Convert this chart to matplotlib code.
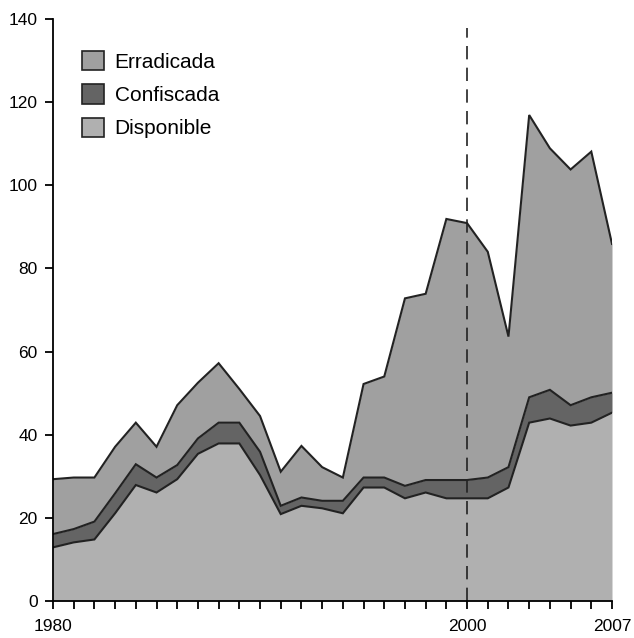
import matplotlib.pyplot as plt
import numpy as np
from matplotlib.patches import Patch

plt.rcParams["font.family"] = ["Liberation Sans", "DejaVu Sans"]

years = np.arange(1980, 2008)

# stacked layer values (hectares, thousands)
disponible = [12.9, 14.1, 14.8, 21.1, 27.9, 26.1, 29.3, 35.4, 37.9, 37.9,
              30.3, 20.9, 22.9, 22.3, 21.1, 27.3, 27.3, 24.7, 26.1, 24.7,
              24.7, 24.7, 27.3, 42.9, 43.9, 42.2, 42.9, 45.3]
confiscada = [3.2, 3.2, 4.3, 4.8, 5.0, 3.6, 3.4, 3.7, 5.0, 5.0,
              5.6, 2.0, 2.0, 1.8, 3.0, 2.4, 2.4, 3.0, 3.0, 4.4,
              4.4, 5.0, 4.9, 6.1, 6.9, 4.9, 6.1, 4.8]
erradicada = [13.2, 12.4, 10.6, 11.2, 10.0, 7.4, 14.4, 13.4, 14.3, 8.1,
              8.6, 8.2, 12.4, 8.1, 5.6, 22.5, 24.3, 45.1, 44.8, 62.8,
              61.8, 54.3, 31.4, 67.9, 58.1, 56.7, 59.1, 35.8]

labels = ["Erradicada", "Confiscada", "Disponible"]
colors = {"Erradicada": "#a0a0a0", "Confiscada": "#646464", "Disponible": "#b0b0b0"}
edge = "#222222"


def main():

    fig = plt.figure(figsize=(6.34, 6.38), dpi=100)
    ax = fig.add_axes([53 / 634, 37 / 638, 559 / 634, 582 / 638])

    d = np.array(disponible)
    c = d + np.array(confiscada)
    e = c + np.array(erradicada)

    ax.fill_between(years, c, e, color=colors["Erradicada"], lw=0)
    ax.fill_between(years, d, c, color=colors["Confiscada"], lw=0)
    ax.fill_between(years, 0, d, color=colors["Disponible"], lw=0)

    for line in (d, c, e):
        ax.plot(years, line, color=edge, lw=1.5, solid_joinstyle="miter")

    ax.axvline(2000, ymin=0, ymax=0.985, color=edge, lw=1.2,
               linestyle=(0, (8, 5)))

    ax.set_xlim(1980, 2007)
    ax.set_ylim(0, 140)
    ax.set_yticks(np.arange(0, 141, 20))
    ax.set_xticks(years)
    ax.set_xticklabels([str(y) if y in (1980, 2000, 2007) else "" for y in years])

    for side in ("top", "right"):
        ax.spines[side].set_visible(False)
    for side in ("left", "bottom"):
        ax.spines[side].set_linewidth(1.3)

    ax.tick_params(axis="y", direction="out", length=6, width=1.3,
                   pad=5, labelsize=12.5)
    ax.tick_params(axis="x", direction="out", length=6, width=1.3,
                   pad=7, labelsize=12.5)

    handles = [Patch(facecolor=colors[k], edgecolor=edge, lw=1.2) for k in labels]
    ax.legend(handles, labels, loc="upper left",
              bbox_to_anchor=(0.019, 0.977), frameon=False,
              fontsize=15, handlelength=1.05, handleheight=1.05,
              handletextpad=0.5, labelspacing=0.6)

    fig.savefig("out.png", dpi=100)


if __name__ == "__main__":

    main()
